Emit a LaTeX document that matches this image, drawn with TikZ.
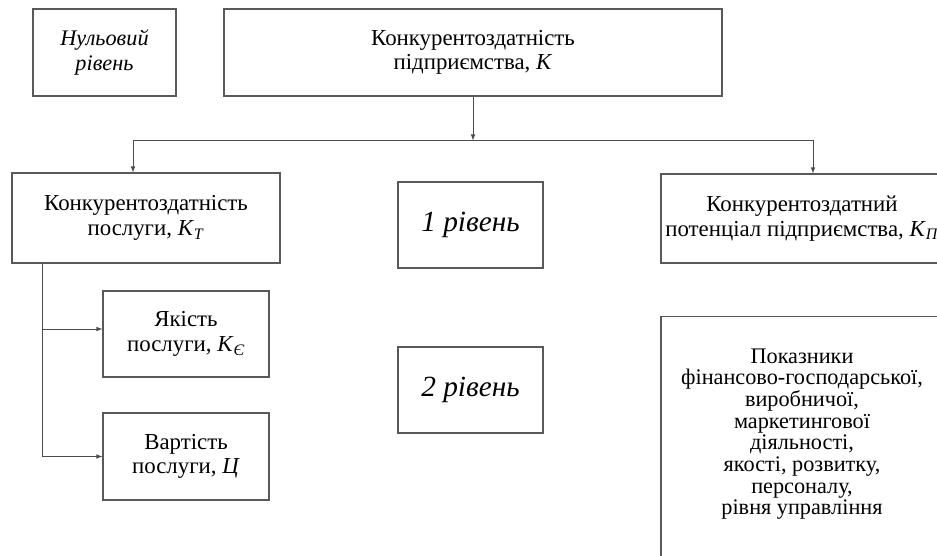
\documentclass[tikz,border=0pt]{standalone}
\usepackage{fontspec}
\setmainfont{Liberation Serif}
\usetikzlibrary{positioning,arrows}
\tikzset{box/.style={draw=black!65,line width=0.9pt,align=center,inner sep=0pt,
  font=\fontsize{19.5}{21}\selectfont}}
\tikzset{lvl/.style={box,font=\fontsize{25}{27}\selectfont\itshape}}
\tikzset{arr/.style={draw=black!70,line width=0.8pt,-latex}}
\newcommand{\Kidx}[1]{\textit{К}\textsubscript{\textit{#1}}}

\begin{document}
\begin{tikzpicture}[x=0.03cm,y=-0.03cm]
\useasboundingbox (0,0) rectangle (937,555);
% levels
\node[box,font=\fontsize{19}{21}\selectfont\itshape,minimum width=4.29cm,minimum height=2.61cm] (zero) at (104.5,52.5) {Нульовий\\рівень};
\node[lvl,minimum width=4.35cm,minimum height=2.58cm] (lvlone) at (470.5,225) {1 рівень};
\node[lvl,minimum width=4.35cm,minimum height=2.58cm] (lvltwo) at (470.5,390) {2 рівень};
% boxes
\node[box,minimum width=14.94cm,minimum height=2.61cm] (top) at (473,52.5) {Конкурентоздатність\\підприємства, \textit{К}};
\node[box,minimum width=8.04cm,minimum height=2.7cm] (serv) at (146,218) {Конкурентоздатність\\послуги, \Kidx{Т}};
\node[box,minimum width=8.46cm,minimum height=2.67cm] (pot) at (802,218.5) {Конкурентоздатний\\потенціал підприємства, \Kidx{П}};
\node[box,minimum width=4.98cm,minimum height=2.58cm] (qual) at (186,334) {Якість\\послуги, \Kidx{Є}};
\node[box,minimum width=4.98cm,minimum height=2.61cm] (cost) at (186,456.5) {Вартість\\послуги, \textit{Ц}};
\node[box,font=\fontsize{19}{18.5}\selectfont,minimum width=8.46cm,anchor=north,inner ysep=0.96cm,text depth=1.3cm] (ind) at (802,316)
  {Показники\\фінансово-господарської,\\виробничої,\\маркетингової\\діяльності,\\якості, розвитку,\\персоналу,\\рівня управління};
% connectors
\path (top.south) ++(0,44) coordinate (split);
\draw[arr] (top) -- (split);
\draw[arr] (split) -| ([xshift=-0.39cm]serv.north);
\draw[arr] (split) -| ([xshift=0.33cm]pot.north);
\draw[arr] ([xshift=-3.12cm]serv.south) |- ([yshift=0.15cm]qual.west);
\draw[arr] ([xshift=-3.12cm]serv.south) |- (cost.west);
\end{tikzpicture}
\end{document}
